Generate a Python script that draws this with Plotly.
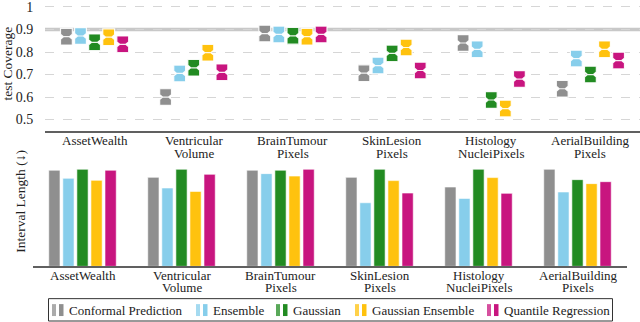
import plotly.graph_objects as go

# datasets (x categories) and how their labels are split over two lines
datasets = ["AssetWealth", "VentricularVolume", "BrainTumourPixels",
            "SkinLesionPixels", "HistologyNucleiPixels", "AerialBuildingPixels"]
label_line1 = ["AssetWealth", "Ventricular", "BrainTumour", "SkinLesion", "Histology", "AerialBuilding"]
label_line2 = ["", "Volume", "Pixels", "Pixels", "NucleiPixels", "Pixels"]

methods = ["Conformal Prediction", "Ensemble", "Gaussian", "Gaussian Ensemble", "Quantile Regression"]
colors = ["#8f8f8f", "#87ceeb", "#228b22", "#ffc20e", "#c8157f"]

# test coverage (median of runs), one list per method
cov_conformal = [0.868, 0.600, 0.882, 0.706, 0.840, 0.637]
cov_ensemble = [0.871, 0.705, 0.878, 0.740, 0.812, 0.771]
cov_gaussian = [0.843, 0.730, 0.872, 0.794, 0.587, 0.700]
cov_gauss_ens = [0.866, 0.797, 0.868, 0.820, 0.549, 0.812]
cov_quantile = [0.834, 0.710, 0.878, 0.718, 0.680, 0.762]

# interval length (relative to the widest method per dataset)
len_conformal = [0.99, 0.917, 0.99, 0.917, 0.817, 1.0]
len_ensemble = [0.907, 0.807, 0.955, 0.655, 0.700, 0.766]
len_gaussian = [1.0, 1.0, 0.99, 1.0, 1.0, 0.893]
len_gauss_ens = [0.886, 0.772, 0.930, 0.883, 0.914, 0.852]
len_quantile = [0.99, 0.948, 1.0, 0.755, 0.752, 0.872]

target_coverage = 0.9

coverage = [cov_conformal, cov_ensemble, cov_gaussian, cov_gauss_ens, cov_quantile]
lengths = [len_conformal, len_ensemble, len_gaussian, len_gauss_ens, len_quantile]

FONT = "Liberation Serif"
TXT = "#222222"
W, H = 640, 322
BOX_HALF = 0.037   # glyph size of the box markers
NOTCH = 0.011


def px_x(px):
    return px / W


def px_y(py):
    return 1 - py / H


fig = go.Figure()

for name, col, cov in zip(methods, colors, coverage):
    fig.add_trace(go.Box(
        x=datasets,
        median=cov,
        q1=[v - BOX_HALF for v in cov],
        q3=[v + BOX_HALF for v in cov],
        notched=True,
        notchspan=[NOTCH] * len(cov),
        notchwidth=0.25,
        whiskerwidth=0,
        fillcolor=col,
        line=dict(color="rgba(255,255,255,0.9)", width=1.2),
        name=name,
        showlegend=False,
        hoverinfo="skip",
        xaxis="x", yaxis="y",
    ))

for name, col, ln in zip(methods, colors, lengths):
    fig.add_trace(go.Bar(
        x=datasets,
        y=ln,
        name=name,
        showlegend=False,
        marker=dict(color=col, line=dict(color="rgba(255,255,255,0.6)", width=1)),
        xaxis="x2", yaxis="y2",
    ))

fig.add_shape(type="line", xref="x domain", yref="y", x0=0, x1=1,
              y0=target_coverage, y1=target_coverage,
              line=dict(color="#c8c8c8", width=3.5), layer="below")

# axis titles
fig.add_annotation(text="test Coverage", xref="paper", yref="paper", x=px_x(8), y=px_y(62),
                   xanchor="center", yanchor="middle", textangle=-90, showarrow=False,
                   font=dict(size=13.5, color=TXT))
fig.add_annotation(text="Interval Length (↓)", xref="paper", yref="paper", x=px_x(21), y=px_y(201),
                   xanchor="center", yanchor="middle", textangle=-90, showarrow=False,
                   font=dict(size=13.5, color=TXT))

# category labels (two tight lines, as in the original)
for xa, y1, y2 in [("x", 139.3, 152.3), ("x2", 275, 287.7)]:
    for cat, l1, l2 in zip(datasets, label_line1, label_line2):
        for txt, py in [(l1, y1), (l2, y2)]:
            if txt:
                fig.add_annotation(text=txt, xref=xa, yref="paper", x=cat, y=px_y(py),
                                   xanchor="center", yanchor="middle", showarrow=False,
                                   font=dict(size=13, color=TXT))

# hand-made legend: frame, two-bar glyph, label
legend_glyph_px = [52, 196, 276, 355, 487]
fig.add_shape(type="rect", xref="paper", yref="paper", x0=px_x(48.5), x1=px_x(612.5),
              y0=px_y(321), y1=px_y(298.5), line=dict(color="#333333", width=1),
              fillcolor="white")
for name, col, gx in zip(methods, colors, legend_glyph_px):
    fig.add_shape(type="rect", xref="paper", yref="paper", x0=px_x(gx), x1=px_x(gx + 4),
                  y0=px_y(316), y1=px_y(304), line=dict(width=0), fillcolor=col, opacity=0.75)
    fig.add_shape(type="rect", xref="paper", yref="paper", x0=px_x(gx + 7), x1=px_x(gx + 11.5),
                  y0=px_y(316), y1=px_y(304), line=dict(width=0), fillcolor=col)
    fig.add_annotation(text=name, xref="paper", yref="paper", x=px_x(gx + 15), y=px_y(310),
                       xanchor="left", yanchor="middle", showarrow=False,
                       font=dict(size=13, color=TXT))

fig.update_layout(
    width=W, height=H,
    margin=dict(l=0, r=0, t=0, b=0),
    paper_bgcolor="white", plot_bgcolor="white",
    font=dict(family=FONT, size=13, color=TXT),
    showlegend=False,
    boxmode="group", boxgap=0.29, boxgroupgap=0.16,
    barmode="group", bargap=0.29, bargroupgap=0.2,
    xaxis=dict(domain=[px_x(45), 1.0], anchor="y", type="category",
               showline=True, linecolor="#606060", linewidth=1.5,
               ticks="", showgrid=False, showticklabels=False),
    yaxis=dict(domain=[px_y(130), 1.0], range=[0.4485, 1.022],
               tickvals=[0.5, 0.6, 0.7, 0.8, 0.9, 1.0],
               ticktext=["0.5", "0.6", "0.7", "0.8", "0.9", "1"],
               showgrid=True, gridcolor="#d6d6d6", griddash="dash", gridwidth=1,
               zeroline=False, showline=False,
               ticks="outside", ticklen=8, tickcolor="rgba(0,0,0,0)",
               ticklabeloverflow="allow", tickfont=dict(size=14)),
    xaxis2=dict(domain=[px_x(33), px_x(627)], anchor="y2", type="category",
                showline=True, linecolor="#606060", linewidth=1.5,
                ticks="", showgrid=False, showticklabels=False),
    yaxis2=dict(domain=[px_y(266), px_y(160)], range=[0, 1.085],
                showticklabels=False, showgrid=False, zeroline=False, showline=False),
)

# the page's default body margin would push the 640x322 figure out of the window
fig.write_html("out.html", config={"displayModeBar": False},
               post_script="document.body.style.margin='0';")
